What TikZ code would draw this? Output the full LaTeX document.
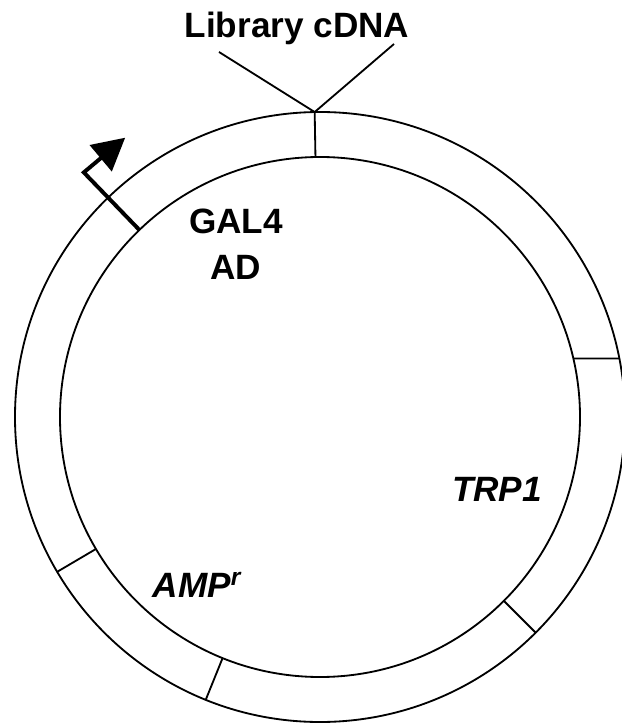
\documentclass[tikz,border=0pt]{standalone}
\usepackage{fontspec}
\setmainfont{Liberation Sans}
\usetikzlibrary{arrows.meta, positioning, calc}

\tikzset{
  ring/.style={line width=1.3pt},
  promoter/.style={line width=2.8pt, line join=miter,
    -{Triangle[length=0.8cm, width=0.84cm]}},
  tag/.style={font=\fontsize{25}{33}\selectfont\bfseries, align=center, inner sep=0pt},
  gene/.style={tag, font=\fontsize{25}{33}\selectfont\bfseries\itshape},
}

\begin{document}
\begin{tikzpicture}[x=0.025cm, y=0.025cm]
  \useasboundingbox (-320,-307) rectangle (302,417);
  \coordinate (c) at (0,0);

  % plasmid backbone
  \draw[ring] (c) circle (305);
  \draw[ring] (c) circle (260);

  % borders between the segments
  \foreach \a in {91, -45, -112, 210.5}
    \draw[ring] (\a:260) -- (\a:305);
  \coordinate (trp-in) at (13:260);
  \coordinate (trp-out) at (299.3,58.5);
  \draw[ring] (trp-in) -- (trp-out);

  % insertion site
  \node[tag] (cdna) at (-23,389) {Library cDNA};
  \coordinate (site) at (91:305);
  \coordinate (cdna-l) at (-101,365);
  \coordinate (cdna-r) at (74,373);
  \draw[ring] (cdna-l) -- (site) -- (cdna-r);

  % promoter
  \coordinate (prom) at (134:260);
  \coordinate (bend) at (134:340);
  \draw[promoter] (prom) -- (bend) -- ++(40:54);

  % segment names
  \node[tag] (gal4) at (-84,173) {GAL4\\AD};
  \node[gene] (trp1) at (177,-72) {TRP1};
  \node[gene] (amp) at (-123,-168) {AMP\textsuperscript{r}};
\end{tikzpicture}
\end{document}
